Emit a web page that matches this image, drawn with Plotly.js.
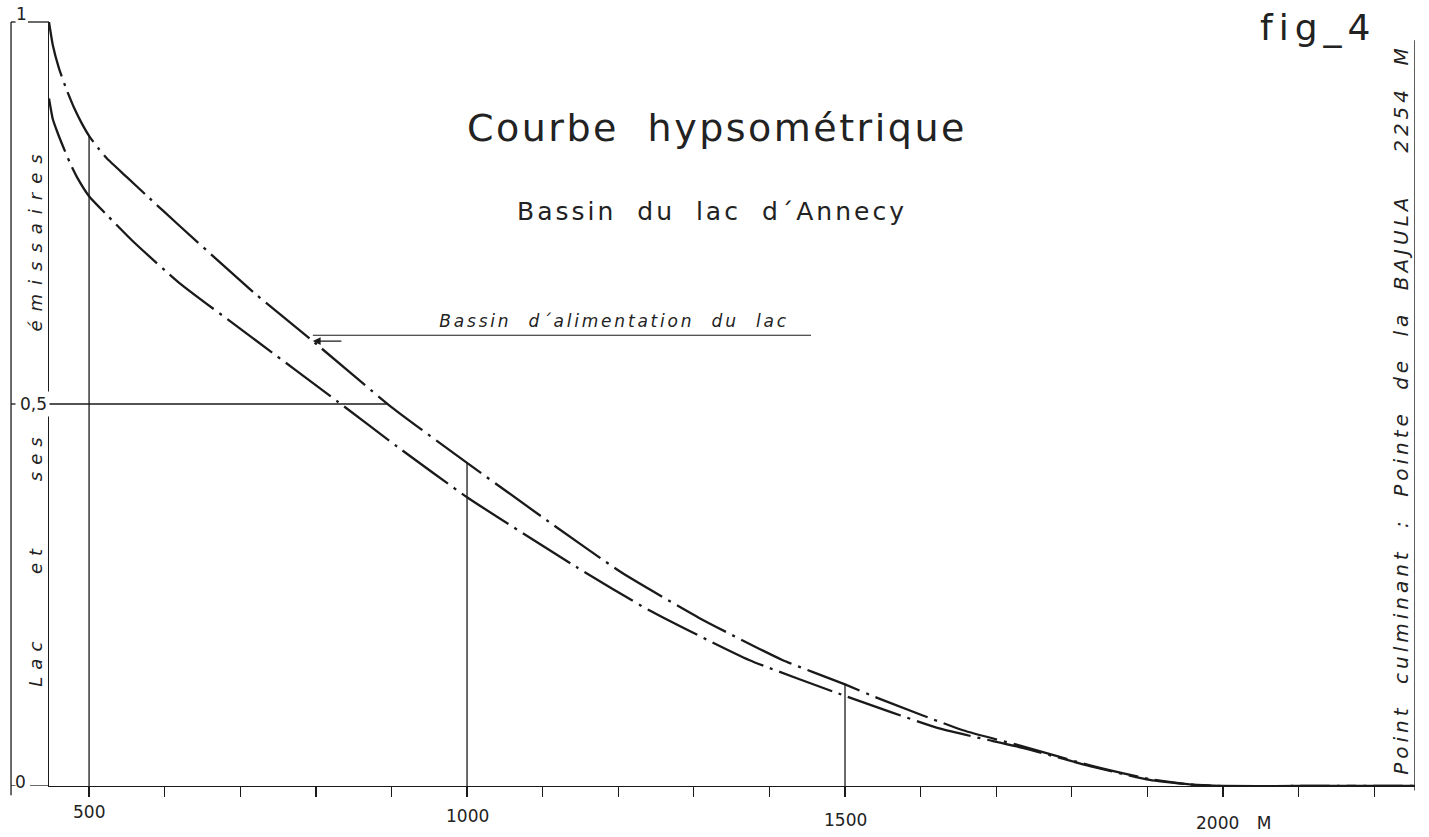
<!DOCTYPE html>
<html><head><meta charset="utf-8">
<script src="https://cdn.plot.ly/plotly-3.0.1.min.js"></script>
<style>html,body{margin:0;padding:0;background:#fff}#chart{width:1429px;height:837px}</style>
</head><body><div id="chart"></div>
<script>
// ---- data ----
const upperElev = [447, 452, 460, 470, 480, 490, 500, 512, 524, 550, 577, 621, 719, 794, 900, 1000, 1108, 1205, 1307, 1417, 1500, 1546, 1656, 1735, 1824, 1903, 1956, 2000, 2100, 2254];
const upperFrac = [1.000, 0.970, 0.940, 0.912, 0.888, 0.868, 0.851, 0.835, 0.821, 0.797, 0.772, 0.732, 0.645, 0.584, 0.496, 0.423, 0.346, 0.279, 0.220, 0.165, 0.133, 0.114, 0.073, 0.052, 0.027, 0.009, 0.002, 0.0, 0.0, 0.0];
const lowerElev = [447, 452, 458, 466, 475, 484, 500, 522, 559, 620, 717, 829, 908, 1000, 1144, 1241, 1373, 1500, 1626, 1735, 1824, 1903, 1956, 2000, 2100, 2254];
const lowerFrac = [0.900, 0.873, 0.856, 0.836, 0.815, 0.797, 0.772, 0.749, 0.712, 0.658, 0.586, 0.503, 0.444, 0.378, 0.287, 0.230, 0.165, 0.118, 0.075, 0.050, 0.026, 0.008, 0.002, 0.0, 0.0, 0.0];
const xTickVals = [500, 600, 700, 800, 900, 1000, 1100, 1200, 1300, 1400, 1500, 1600, 1700, 1800, 1900, 2000, 2100, 2200];
const xLabelVals = [500, 1000, 1500, 2000];
const xLabelText = ['500', '1000', '1500', '2000 M'];
const yLabelVals = [0, 0.5, 1];
const yLabelText = ['0', '0,5', '1'];
const refElev = [500, 1000, 1500];
const medianFrac = 0.5;
const arrowElev = 796;
const lakeElev = 447;
const summitElev = 2254;

function interp(xs, ys, x) {
  for (let i = 0; i < xs.length - 1; i++) {
    if (x >= xs[i] && x <= xs[i + 1]) {
      const t = (x - xs[i]) / (xs[i + 1] - xs[i]);
      return ys[i] + t * (ys[i + 1] - ys[i]);
    }
  }
  return ys[ys.length - 1];
}
function invInterp(xs, ys, y) {
  for (let i = 0; i < ys.length - 1; i++) {
    if (y <= ys[i] && y >= ys[i + 1]) {
      const t = (ys[i] - y) / (ys[i] - ys[i + 1]);
      return xs[i] + t * (xs[i + 1] - xs[i]);
    }
  }
  return xs[xs.length - 1];
}

const ink = '#1a1a1a';
const textInk = '#222222';
const dashDot = '56px,7px,3px,7px';
const FONT = 'DejaVu Sans';

const traces = [
  {x: upperElev, y: upperFrac, mode: 'lines', line: {color: ink, width: 2.3, dash: dashDot, shape: 'spline', smoothing: 0.5}, cliponaxis: false, hoverinfo: 'skip', name: 'Bassin d´alimentation du lac'},
  {x: lowerElev, y: lowerFrac, mode: 'lines', line: {color: ink, width: 2.3, dash: dashDot, shape: 'spline', smoothing: 0.5}, cliponaxis: false, hoverinfo: 'skip', name: 'Lac et ses émissaires'}
];

const shapes = [];
refElev.forEach(e => {
  shapes.push({type: 'line', xref: 'x', yref: 'y', x0: e, x1: e, y0: 0, y1: interp(upperElev, upperFrac, e), line: {color: ink, width: 1.3}});
});
shapes.push({type: 'line', xref: 'x', yref: 'y', x0: lakeElev, x1: invInterp(upperElev, upperFrac, medianFrac), y0: medianFrac, y1: medianFrac, line: {color: ink, width: 1.3}});
shapes.push({type: 'line', xref: 'x', yref: 'paper', x0: summitElev, x1: summitElev, y0: -0.006, y1: 0.976, line: {color: ink, width: 1.4}});
shapes.push({type: 'line', xref: 'paper', yref: 'paper', x0: -0.0278, x1: -0.0278, y0: -0.012, y1: 1.0, line: {color: ink, width: 1.3}});
shapes.push({type: 'line', xref: 'paper', yref: 'paper', x0: -0.0278, x1: -0.0245, y0: 1.0, y1: 1.0, line: {color: ink, width: 1.3}});
shapes.push({type: 'line', xref: 'paper', yref: 'y', x0: -0.0278, x1: -0.0245, y0: 0.5, y1: 0.5, line: {color: ink, width: 1.3}});
shapes.push({type: 'line', xref: 'paper', yref: 'y', x0: -0.0278, x1: -0.0245, y0: 0, y1: 0, line: {color: ink, width: 1.3}});
shapes.push({type: 'line', xref: 'paper', yref: 'paper', x0: -0.0154, x1: 0, y0: 1.0, y1: 1.0, line: {color: ink, width: 1.3}});
shapes.push({type: 'line', xref: 'paper', yref: 'y', x0: -0.0139, x1: 0, y0: 0, y1: 0, line: {color: ink, width: 1.3}});
shapes.push({type: 'line', xref: 'x', yref: 'paper', x0: arrowElev, x1: 1455, y0: 0.590, y1: 0.590, line: {color: ink, width: 1.2}});

const annotations = [];
const spacing = [];
function addAnn(a, ls, ws) { annotations.push(Object.assign({showarrow: false, xanchor: 'center', yanchor: 'middle'}, a)); spacing.push([ls || 0, ws || 0]); }

addAnn({text: 'Courbe hypsométrique', xref: 'paper', yref: 'paper', x: 0.489, y: 0.861, font: {family: FONT, size: 38, color: textInk}}, 2.5, 14);
addAnn({text: 'Bassin du lac d´Annecy', xref: 'paper', yref: 'paper', x: 0.485, y: 0.752, font: {family: FONT, size: 25, color: textInk}}, 3, 10);
addAnn({text: 'fig_4', xref: 'paper', yref: 'paper', x: 0.929, y: 0.993, font: {family: FONT, size: 36, color: textInk}}, 6, 0);
addAnn({text: 'Bassin d´alimentation du lac', xref: 'paper', yref: 'paper', x: 0.414, y: 0.608, font: {family: FONT, size: 17, color: textInk, style: 'italic'}}, 2.8, 9);
annotations.push({text: '', xref: 'x', yref: 'y', x: arrowElev, y: interp(upperElev, upperFrac, arrowElev), showarrow: true, ax: 30, ay: 0, arrowhead: 2, arrowsize: 1.3, arrowwidth: 1.2, arrowcolor: ink, standoff: 0});
spacing.push([0, 0]);
addAnn({text: 'émissaires', xref: 'paper', yref: 'paper', x: -0.010, y: 0.717, textangle: -90, font: {family: FONT, size: 18, color: textInk, style: 'italic'}}, 9, 0);
addAnn({text: 'Lac et ses', xref: 'paper', yref: 'paper', x: -0.010, y: 0.298, textangle: -90, font: {family: FONT, size: 18, color: textInk, style: 'italic'}}, 7, 48);
addAnn({text: 'Point culminant : Pointe de la BAJULA  2254 M', xref: 'paper', yref: 'paper', x: 0.9895, y: 0.492, textangle: -90, font: {family: FONT, size: 20, color: textInk, style: 'italic'}}, 4, 10);
yLabelVals.forEach((v, i) => {
  const px = [-0.0205, -0.0117, -0.0198][i];
  addAnn({text: yLabelText[i], xref: 'paper', yref: 'y', x: px, y: v, yshift: [4, 0, 8][i], bgcolor: i === 1 ? '#ffffff' : 'rgba(0,0,0,0)', borderpad: 2, font: {family: FONT, size: 17, color: textInk}}, 0, 0);
});
xLabelVals.forEach((v, i) => {
  const last = i === xLabelVals.length - 1;
  addAnn({text: xLabelText[i], xref: 'x', yref: 'paper', x: v, y: -0.034 - i * 0.005, xanchor: last ? 'left' : 'center', xshift: last ? -23 : 0, font: {family: FONT, size: 17, color: textInk}}, 0, last ? 12 : 0);
});

const layout = {
  width: 1429, height: 837,
  margin: {l: 49, r: 14, t: 22, b: 51},
  paper_bgcolor: '#ffffff', plot_bgcolor: '#ffffff',
  showlegend: false,
  xaxis: {range: [lakeElev, summitElev], showline: true, linecolor: ink, linewidth: 1.3, ticks: 'outside', ticklen: 10, tickwidth: 1.3, tickcolor: ink, tickmode: 'array', tickvals: xTickVals, showticklabels: false, showgrid: false, zeroline: false, fixedrange: true},
  yaxis: {range: [0, 1], showline: true, linecolor: ink, linewidth: 1.3, ticks: '', showticklabels: false, showgrid: false, zeroline: false, fixedrange: true},
  shapes: shapes,
  annotations: annotations
};

Plotly.newPlot('chart', traces, layout, {staticPlot: true, displayModeBar: false}).then(() => {
  document.querySelectorAll('#chart g.annotation').forEach(g => {
    const idx = +g.getAttribute('data-index');
    const s = spacing[idx];
    if (!s) return;
    g.querySelectorAll('text').forEach(t => {
      if (s[0]) t.style.letterSpacing = s[0] + 'px';
      if (s[1]) t.style.wordSpacing = s[1] + 'px';
    });
  });
});
</script>
</body></html>
